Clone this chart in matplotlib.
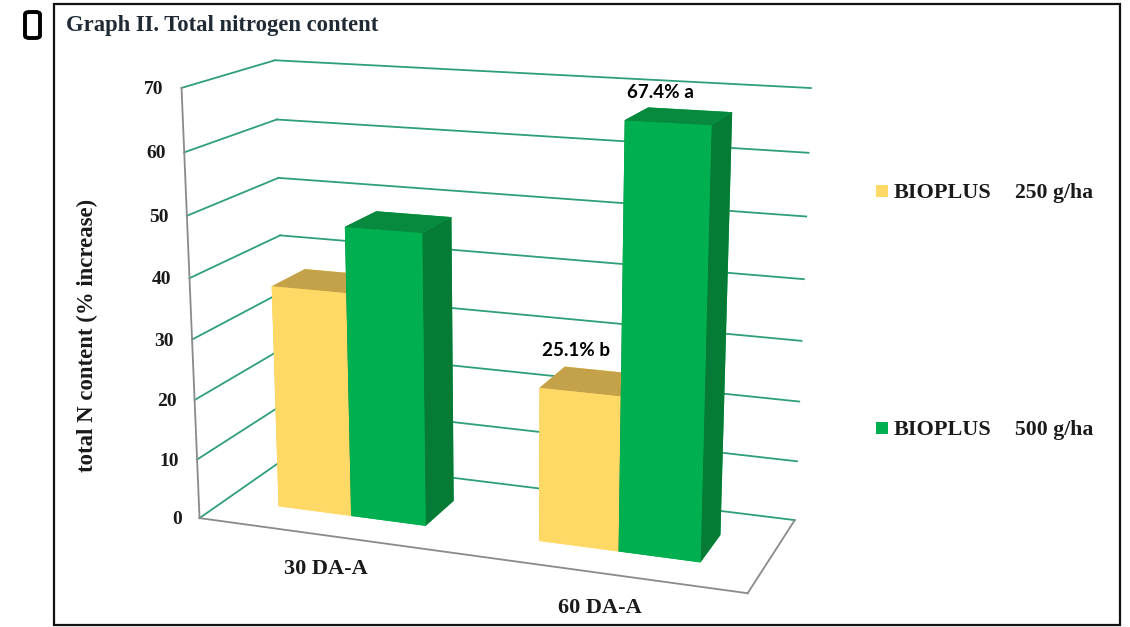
import numpy as np
import matplotlib; matplotlib.use("Agg")
import matplotlib.pyplot as plt
from matplotlib.patches import Rectangle, FancyBboxPatch
from mpl_toolkits.mplot3d import proj3d

W, H = 1130, 627

categories = ["30 DA-A", "60 DA-A"]
series_names = ["BIOPLUS", "BIOPLUS"]
series_doses = ["250 g/ha", "500 g/ha"]
values_250 = [37.3, 25.1]
values_500 = [48.0, 67.4]
z_ticks = [0, 10, 20, 30, 40, 50, 60, 70]
point_labels = ["67.4% a", "25.1% b"]

SERIF = "Liberation Serif"
YELLOW = ("#FFD966", "#C4A24A", "#E8C55A")   # front, top, side
GREEN = ("#00B050", "#078A3E", "#067B36")
GRID = "#2F9E7C"
AXIS = "#8A8A8A"
INK = "#1a1a1a"


def px(x, y):
    return x / W, 1 - y / H


fig = plt.figure(figsize=(W / 100, H / 100), dpi=100, facecolor="white")

# camera fitted to the corners of the chart box
S, left, top = 735.0, 118.6, -48.0
ax = fig.add_axes([left / W, 1 - (top + S) / H, S / W, S / H], projection="3d")
ax.set_xlim(0, 1); ax.set_ylim(0, 1); ax.set_zlim(0, 70)
ax.view_init(14.915, -69.609, 0.126)
ax.set_box_aspect((1.294, 0.458, 1), zoom=1)
ax.set_proj_type("persp", focal_length=0.516)
ax.set_axis_off()
ax.patch.set_alpha(0)
ax.computed_zorder = False

M = ax.get_proj()

# walls
for z in z_ticks:
    ax.plot([0, 0], [0, 1], [z, z], color=GRID, lw=1.3, zorder=1)
    ax.plot([0, 1], [1, 1], [z, z], color=GRID, lw=1.3, zorder=1)
    # tick labels sit just left of the front wall edge
    u, v, _ = proj3d.proj_transform(0, 0, z, M)
    xp, yp = ax.transData.transform((u, v))
    fig.text((xp - 18) / W, (yp - 1.5) / H, str(z), ha="right", va="center", family=SERIF,
             fontweight="bold", fontsize=14, color=INK)
ax.plot([0, 0], [0, 0], [0, 70], color=AXIS, lw=1.3, zorder=2)
ax.plot([0, 1], [0, 0], [0, 0], color=AXIS, lw=1.3, zorder=2)
ax.plot([1, 1], [0, 1], [0, 0], color=AXIS, lw=1.3, zorder=2)

# bars
bar_w, y0, bar_d = 0.144, 0.29, 0.382
for i, (v1, v2) in enumerate(zip(values_250, values_500)):
    centre = 0.25 + 0.5 * i
    for j, (v, cols) in enumerate([(v1, YELLOW), (v2, GREEN)]):
        front, topc, side = cols
        # face order: bottom, top, front, back, left, right
        ax.bar3d(centre - bar_w + j * bar_w, y0, 0, bar_w, bar_d, v,
                 color=[front, topc, front, front, side, side],
                 shade=False, linewidth=0.3, edgecolor=None, zorder=3 + 2 * i + j)

# outer frame and the small marker box
fig.add_artist(Rectangle(px(54, 625), 1066 / W, 621 / H, transform=fig.transFigure,
                         fill=False, ec="#111111", lw=1.6))
fig.add_artist(FancyBboxPatch(px(25, 38), 15 / W, 26 / H, transform=fig.transFigure,
                              boxstyle="round,pad=0,rounding_size=0.004",
                              fill=False, ec="black", lw=2.8))

fig.text(*px(66, 25), "Graph II. Total nitrogen content", family=SERIF, fontweight="bold",
         fontsize=16.3, color="#1f2a35", ha="left", va="center")
fig.text(*px(87, 335), "total N content (% increase)", family=SERIF, fontweight="bold",
         fontsize=16.4, color=INK, rotation=90, ha="center", va="center")

fig.text(*px(326, 569), categories[0], family=SERIF, fontweight="bold", fontsize=16,
         color=INK, ha="center", va="center")
fig.text(*px(600, 608), categories[1], family=SERIF, fontweight="bold", fontsize=16,
         color=INK, ha="center", va="center")

fig.text(*px(660, 92), point_labels[0], family="Lato", fontweight="bold", fontsize=13.6,
         color="black", ha="center", va="center")
fig.text(*px(576, 350), point_labels[1], family="Lato", fontweight="bold", fontsize=13.6,
         color="black", ha="center", va="center")

# legend
for k, (yy, col) in enumerate([(191, YELLOW[0]), (428, GREEN[0])]):
    fig.add_artist(Rectangle(px(876, yy + 6), 12 / W, 12 / H, transform=fig.transFigure,
                             fc=col, ec="none"))
    fig.text(*px(894, yy + 2), series_names[k], family=SERIF, fontweight="bold", fontsize=16,
             color=INK, ha="left", va="center")
    fig.text(*px(1015, yy + 2), series_doses[k], family=SERIF, fontweight="bold", fontsize=15.7,
             color=INK, ha="left", va="center")

fig.savefig("out.png", dpi=100)
